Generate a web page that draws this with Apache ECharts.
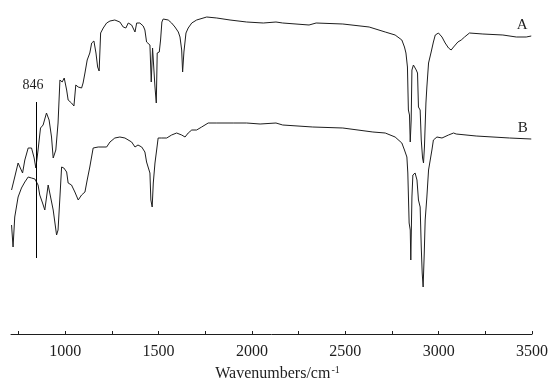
<!DOCTYPE html>
<html>
<head>
<meta charset="utf-8">
<title>FTIR spectra A / B</title>
<script src="https://cdn.jsdelivr.net/npm/echarts@6/dist/echarts.min.js"></script>
<style>
    html, body {
        margin: 0;
        padding: 0;
        background: #fff;
    }
    #ftir {
        width: 552px;
        height: 387px;
    }
</style>
</head>
<body>
<div id="ftir"></div>
<script>
    // spectrum A (upper trace), wavenumber in cm-1, transmittance in arbitrary units
    var wavenumbersA = [713, 721, 730, 748, 757, 772, 784, 802, 820, 834, 843, 855, 868, 882, 900, 914, 927, 936, 950, 962,
        972, 984, 995, 1008, 1016, 1034, 1047, 1057, 1070, 1088, 1096, 1106, 1118, 1132, 1142, 1154, 1165, 1174, 1182, 1190,
        1204, 1222, 1240, 1266, 1293, 1311, 1325, 1338, 1356, 1364, 1374, 1383, 1400, 1418, 1427, 1436, 1445, 1454, 1461, 1468,
        1475, 1481, 1488, 1493, 1504, 1511, 1518, 1525, 1552, 1570, 1588, 1606, 1615, 1624, 1629, 1636, 1647, 1659, 1678, 1704,
        1758, 1812, 1883, 1972, 2061, 2129, 2165, 2306, 2344, 2487, 2628, 2714, 2767, 2803, 2817, 2825, 2833, 2838, 2844, 2848,
        2853, 2857, 2865, 2874, 2880, 2887, 2892, 2901, 2907, 2914, 2919, 2924, 2932, 2937, 2946, 2960, 2972, 2982, 2999, 3018,
        3035, 3053, 3067, 3080, 3103, 3121, 3139, 3165, 3237, 3344, 3416, 3469, 3496];
    var spectrumA = [144, 142, 157, 171, 172, 161, 174, 186, 186, 176, 166, 184, 206, 209, 221, 214, 197, 176, 184, 211,
        254, 252, 256, 244, 234, 231, 228, 249, 247, 246, 251, 261, 274, 281, 291, 293, 281, 267, 263, 301,
        306, 311, 313, 314, 312, 307, 306, 311, 309, 307, 302, 311, 311, 308, 304, 292, 291, 289, 252, 286,
        286, 247, 231, 281, 282, 294, 312, 315, 314, 311, 307, 302, 297, 284, 262, 282, 301, 306, 311, 314,
        317, 316, 314, 312, 311, 312, 311, 309, 311, 310, 307, 302, 299, 294, 287, 281, 267, 224, 219, 192,
        214, 264, 269, 271, 264, 261, 227, 224, 194, 176, 171, 187, 231, 247, 271, 282, 292, 299, 301, 297,
        291, 286, 284, 287, 292, 294, 297, 301, 300, 299, 297, 297, 298];

    // spectrum B (lower trace)
    var wavenumbersB = [713, 721, 730, 748, 766, 784, 802, 820, 838, 847, 855, 864, 879, 891, 909, 918, 936, 954, 962, 972,
        981, 993, 1008, 1016, 1034, 1052, 1070, 1088, 1106, 1118, 1132, 1150, 1177, 1222, 1240, 1266, 1293, 1320, 1356, 1364,
        1374, 1390, 1410, 1427, 1436, 1445, 1454, 1459, 1466, 1472, 1481, 1490, 1498, 1517, 1544, 1570, 1597, 1624, 1642, 1659,
        1678, 1704, 1731, 1766, 1812, 1900, 1972, 2044, 2129, 2165, 2326, 2487, 2648, 2714, 2767, 2803, 2817, 2830, 2835, 2842,
        2848, 2851, 2857, 2862, 2874, 2884, 2892, 2901, 2907, 2912, 2917, 2923, 2928, 2937, 2946, 2964, 2972, 2991, 3018, 3053,
        3080, 3094, 3201, 3380, 3496];
    var spectrumB = [109, 87, 117, 137, 146, 152, 157, 156, 155, 154, 149, 139, 131, 124, 149, 147, 124, 99, 104, 137,
        167, 166, 162, 151, 149, 142, 134, 139, 142, 154, 167, 186, 187, 187, 192, 196, 197, 196, 192, 191,
        187, 189, 187, 182, 172, 171, 161, 134, 127, 151, 171, 184, 196, 196, 196, 199, 201, 199, 197, 201,
        204, 204, 207, 211, 211, 211, 211, 210, 211, 209, 207, 206, 202, 201, 197, 191, 184, 177, 161, 111,
        104, 74, 137, 159, 161, 154, 134, 127, 87, 61, 47, 81, 114, 137, 164, 184, 194, 197, 196, 199,
        201, 200, 198, 196, 195];

    var seriesNames = ['A', 'B'];
    var nameAnchors = [[3448, 309], [3451, 206]];   // where the A / B letters sit
    var markerWavenumber = 846;
    var markerSpan = [76, 232];
    var tickValues = [750, 1000, 1250, 1500, 1750, 2000, 2250, 2500, 2750, 3000, 3250, 3500];
    var labelValues = [1000, 1500, 2000, 2500, 3000, 3500];

    var serif = "'Liberation Serif', 'Times New Roman', serif";
    var ink = '#1e1e1e';

    function zip(xs, ys) {
        var out = [];
        for (var i = 0; i < xs.length; i++) {
            out.push([xs[i], ys[i]]);
        }
        return out;
    }

    function nameMark(i) {
        return {
            silent: true,
            symbol: 'circle',
            symbolSize: 0,
            itemStyle: {color: 'transparent'},
            label: {
                show: true,
                position: 'inside',
                formatter: seriesNames[i],
                color: ink,
                fontFamily: serif,
                fontSize: 15
            },
            data: [{coord: nameAnchors[i]}]
        };
    }

    var chart = echarts.init(document.getElementById('ftir'));
    var option = {
        animation: false,
        backgroundColor: '#fff',
        grid: {
            left: 11,
            right: 20,
            top: 0,
            bottom: 53
        },
        xAxis: {
            type: 'value',
            min: 710,
            max: 3500,
            name: '{a|Wavenumbers/cm}{b|-1}',
            nameLocation: 'middle',
            nameGap: 30,
            nameTextStyle: {
                padding: [0, 0, 0, 12],
                rich: {
                    a: {fontFamily: serif, fontSize: 16, color: ink},
                    b: {fontFamily: serif, fontSize: 10, color: ink, padding: [0, 0, 7, 1]}
                }
            },
            splitLine: {show: false},
            axisLine: {lineStyle: {color: ink, width: 1}},
            axisTick: {
                inside: true,
                length: 3,
                customValues: tickValues,
                lineStyle: {color: ink}
            },
            axisLabel: {
                customValues: labelValues,
                margin: 10,
                color: ink,
                fontFamily: serif,
                fontSize: 16,
                formatter: function (v) {
                    return String(v);
                }
            }
        },
        yAxis: {
            type: 'value',
            min: 0,
            max: 334,
            show: false
        },
        series: [{
            name: seriesNames[0],
            type: 'line',
            data: zip(wavenumbersA, spectrumA),
            showSymbol: false,
            lineStyle: {color: ink, width: 1},
            markPoint: nameMark(0),
            markLine: {
                silent: true,
                symbol: ['none', 'none'],
                lineStyle: {color: '#000', width: 1, type: 'solid'},
                label: {
                    show: true,
                    position: 'end',
                    distance: 10,
                    padding: [0, 7, 0, 0],
                    formatter: String(markerWavenumber),
                    color: ink,
                    fontFamily: serif,
                    fontSize: 14
                },
                data: [[
                    {coord: [markerWavenumber, markerSpan[0]]},
                    {coord: [markerWavenumber, markerSpan[1]]}
                ]]
            }
        }, {
            name: seriesNames[1],
            type: 'line',
            data: zip(wavenumbersB, spectrumB),
            showSymbol: false,
            lineStyle: {color: ink, width: 1},
            markPoint: nameMark(1)
        }]
    };
    chart.setOption(option);
</script>
</body>
</html>
